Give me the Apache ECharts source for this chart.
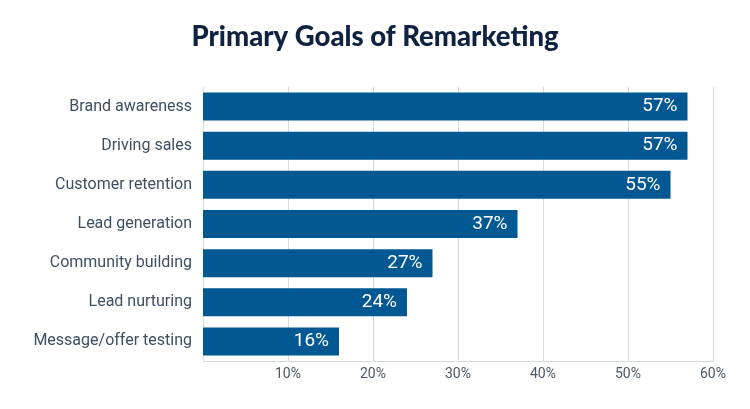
<!DOCTYPE html>
<html>
<head>
<meta charset="utf-8">
<script src="https://cdn.jsdelivr.net/npm/echarts@6/dist/echarts.min.js"></script>
<style>html,body{margin:0;padding:0;background:#fff;}#c{width:750px;height:409px;}</style>
</head>
<body>
<div id="c"></div>
<script>
const categories = ["Brand awareness","Driving sales","Customer retention","Lead generation","Community building","Lead nurturing","Message/offer testing"];
const values = [57,57,55,37,27,24,16];
const tickLabels = ["10%","20%","30%","40%","50%","60%"];

const chart = echarts.init(document.getElementById('c'), null, {renderer:'canvas'});
chart.setOption({
  backgroundColor:'#ffffff',
  animation:false,
  title:{
    text:'Primary Goals of Remarketing',
    left:'center', top:18,
    textStyle:{fontFamily:'Lato', fontWeight:900, fontSize:27.5, color:'#0f2242'}
  },
  grid:{left:203, right:37, top:87, bottom:48},
  xAxis:{
    type:'value', min:0, max:60, interval:10,
    axisLine:{show:true, lineStyle:{color:'#d5dbe1'}},
    axisTick:{show:false},
    splitLine:{show:true, lineStyle:{color:'#d5dbe1', width:1}},
    axisLabel:{
      fontFamily:'Roboto', fontSize:14, color:'#4a5866', margin:6,
      formatter:function(v){ const i = Math.round(v/10)-1; return i>=0 ? tickLabels[i] : ''; }
    }
  },
  yAxis:{
    type:'category', data:categories, inverse:true,
    axisLine:{show:false}, axisTick:{show:false},
    axisLabel:{fontFamily:'Roboto', fontSize:16, color:'#3e4f60', margin:11}
  },
  series:[{
    type:'bar', data:values, barWidth:28,
    itemStyle:{color:'#025892'},
    label:{
      show:true, position:'insideRight', offset:[-5,0],
      formatter:'{c}%', color:'#ffffff', fontFamily:'Roboto', fontSize:19
    }
  }]
});
</script>
</body>
</html>
